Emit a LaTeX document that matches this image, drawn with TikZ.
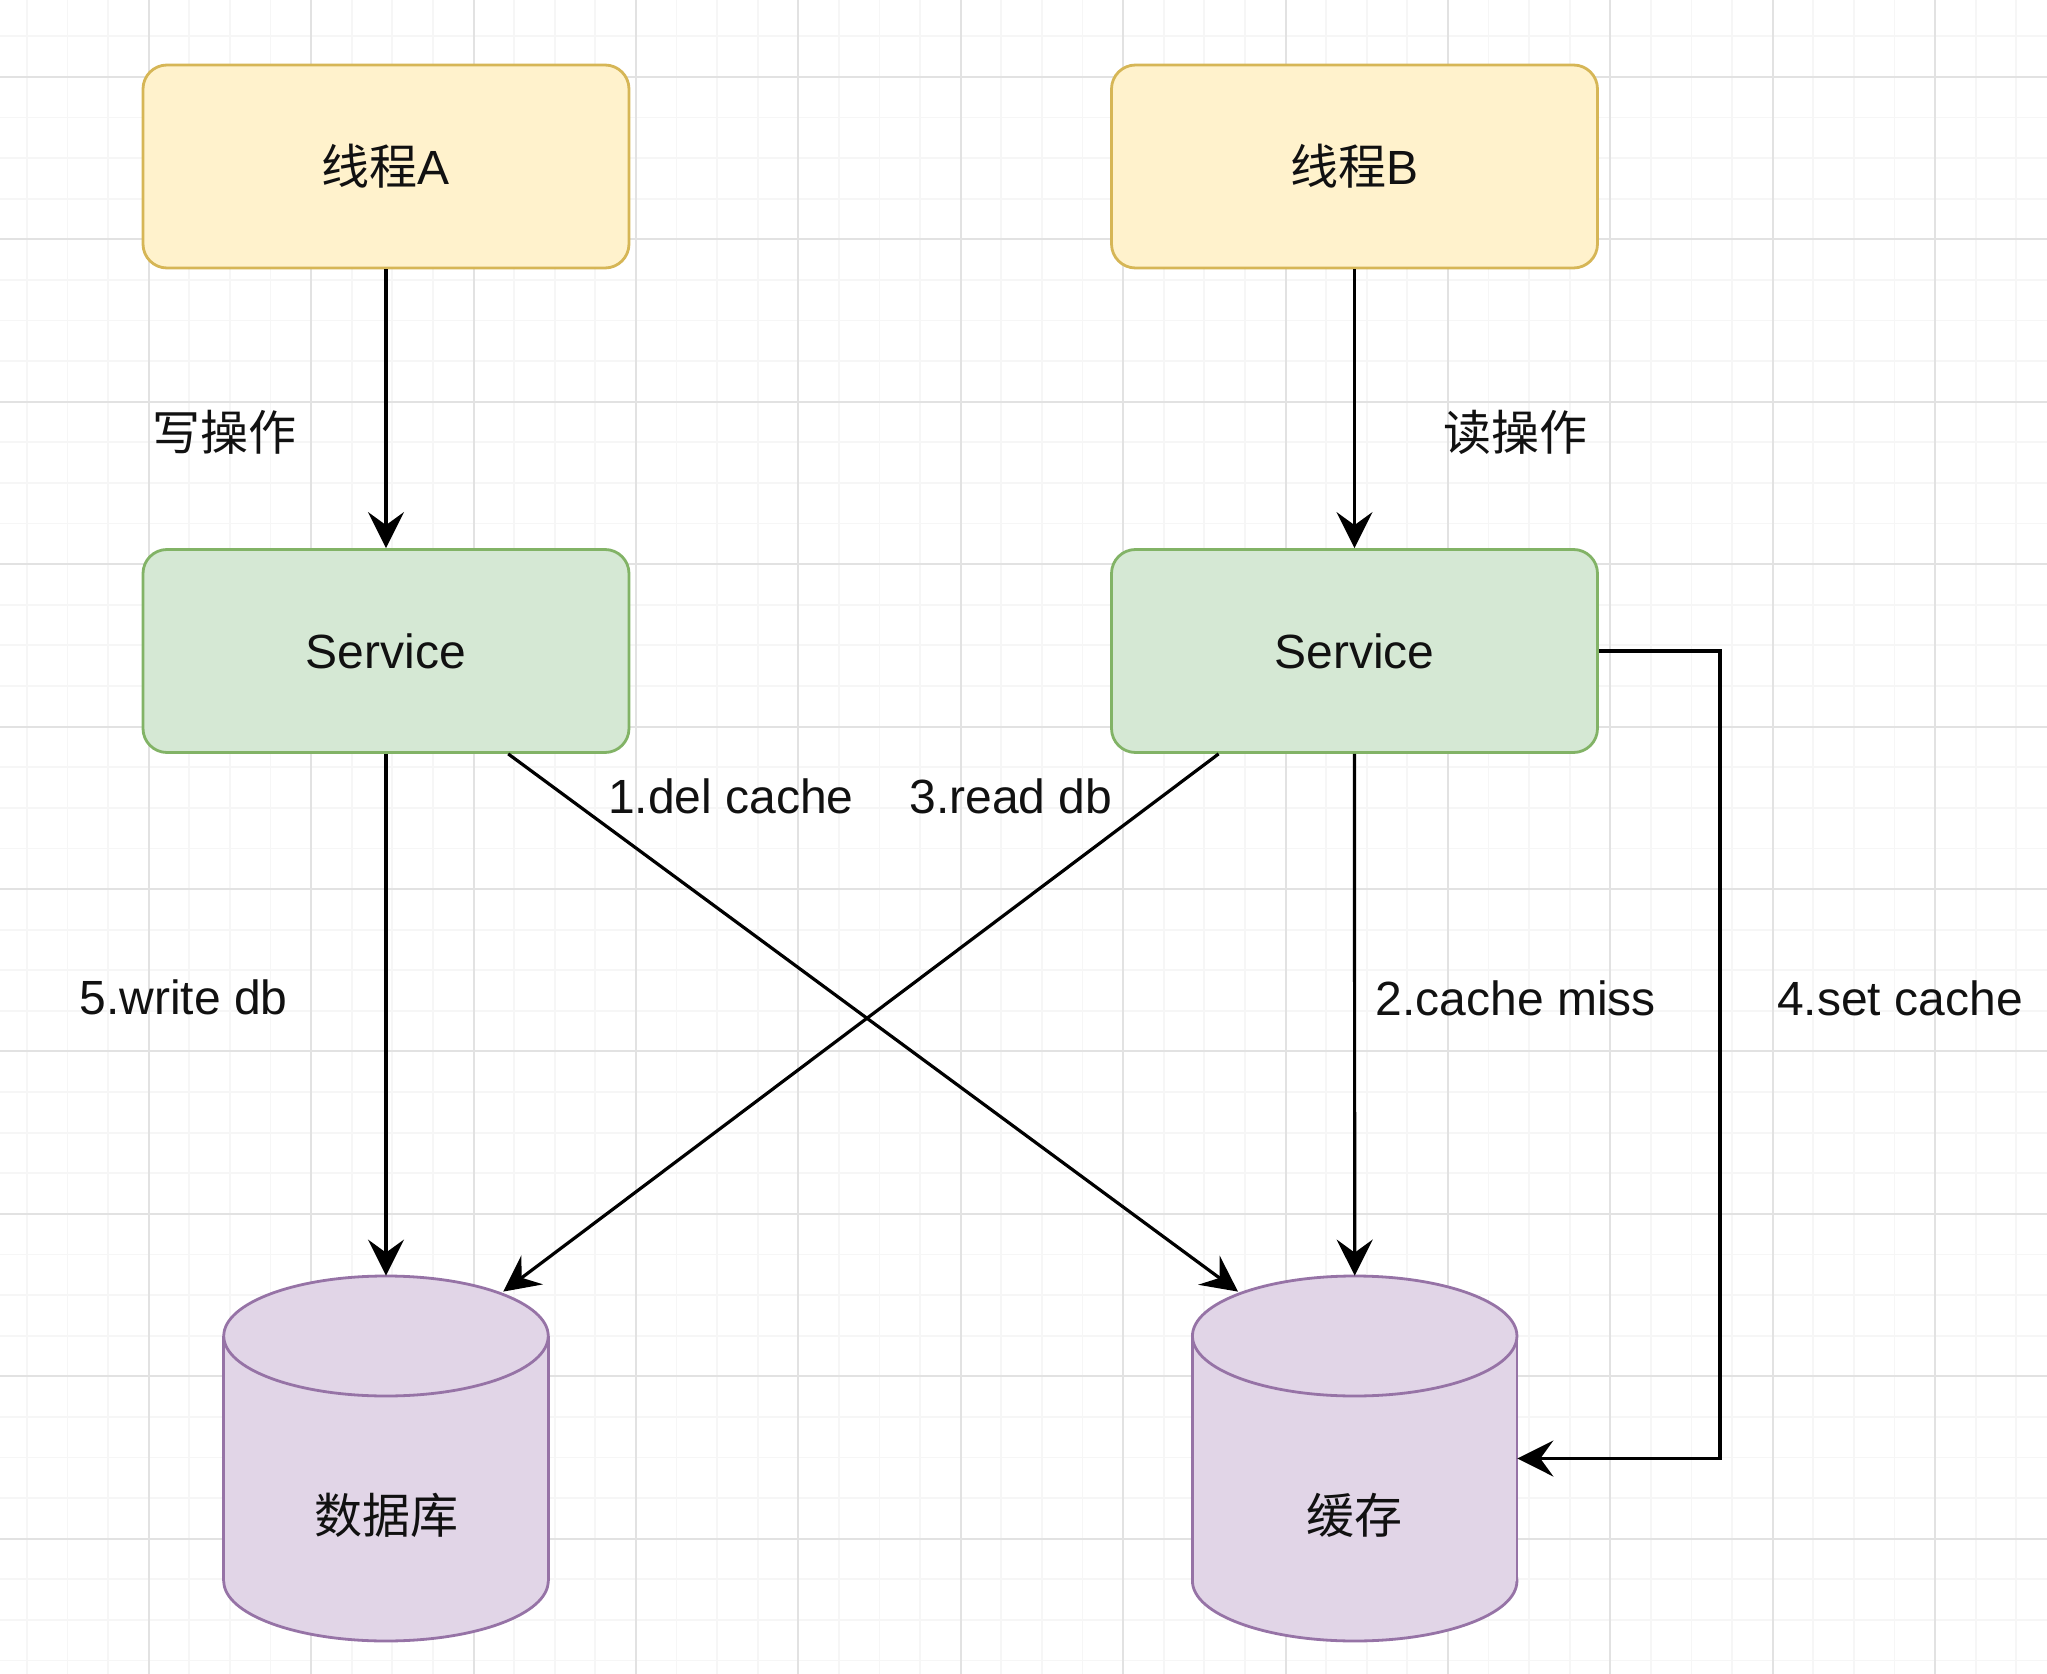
\documentclass[tikz,border=0pt]{standalone}
\usepackage{fontspec}
\setmainfont{Liberation Sans}
\newfontfamily\cjk{Noto Sans CJK SC}
\usetikzlibrary{arrows.meta,calc}
\definecolor{yfill}{HTML}{FFF2CC}
\definecolor{ydraw}{HTML}{D6B656}
\definecolor{gfill}{HTML}{D5E8D4}
\definecolor{gdraw}{HTML}{82B366}
\definecolor{pfill}{HTML}{E1D5E7}
\definecolor{pdraw}{HTML}{9673A6}
\definecolor{majorcol}{HTML}{E2E2E2}
\definecolor{minorcol}{HTML}{F6F6F6}
\definecolor{txt}{HTML}{111111}
\tikzset{
  minorgrid/.style={minorcol, line width=0.9pt},
  majorgrid/.style={majorcol, line width=1pt},
  box/.style={rounded corners=12pt, minimum width=243pt, minimum height=101.5pt,
    inner sep=0pt, line width=1.4pt, text=txt, font=\fontsize{24pt}{28pt}\selectfont},
  lbl/.style={inner sep=0pt, text=txt, font=\fontsize{24pt}{28pt}\selectfont},
  cylbox/.style={inner sep=0pt, minimum width=162.25pt, minimum height=182.5pt},
  cylline/.style={pdraw, line width=1.4pt},
  arr/.style={line width=1.6pt, black, -{Stealth[length=18pt,width=18pt,inset=6.5pt]}}
}
\begin{document}
\begin{tikzpicture}[x=0.5pt,y=-0.5pt]
\fill[white] (0,0) rectangle (2047,1674);
\useasboundingbox (0,0) rectangle (2047,1674);
% grid
\foreach \i in {0,...,49} \draw[minorgrid] ({26.9+40.6*\i},0) -- ({26.9+40.6*\i},1674);
\foreach \i in {0,...,40} \draw[minorgrid] (0,{36.4+40.6*\i}) -- (2047,{36.4+40.6*\i});
\foreach \i in {0,...,11} \draw[majorgrid] ({148.7+162.4*\i},0) -- ({148.7+162.4*\i},1674);
\foreach \i in {0,...,9} \draw[majorgrid] (0,{77+162.4*\i}) -- (2047,{77+162.4*\i});

% boxes
\node[box, fill=yfill, draw=ydraw] (ta) at (386,166.5) {{\cjk 线程}A};
\node[box, fill=yfill, draw=ydraw] (tb) at (1354.5,166.5) {{\cjk 线程}B};
\node[box, fill=gfill, draw=gdraw] (sa) at (386,651) {Service};
\node[box, fill=gfill, draw=gdraw] (sb) at (1354.5,651) {Service};

% cylinder: database
\draw[cylline, fill=pfill] (386,1581) ellipse [x radius=162.25, y radius=60];
\fill[pfill] (223.75,1336) rectangle (548.25,1581);
\draw[cylline] (223.75,1336) -- (223.75,1581);
\draw[cylline] (548.25,1336) -- (548.25,1581);
\draw[cylline, fill=pfill] (386,1336) ellipse [x radius=162.25, y radius=60];
\node[cylbox] (db) at (386,1458.5) {};
\node[lbl] (dbl) at (386,1515) {\cjk 数据库};

% cylinder: cache
\draw[cylline, fill=pfill] (1354.7,1581) ellipse [x radius=162.25, y radius=60];
\fill[pfill] (1192.45,1336) rectangle (1516.95,1581);
\draw[cylline] (1192.45,1336) -- (1192.45,1581);
\draw[cylline] (1516.95,1336) -- (1516.95,1581);
\draw[cylline, fill=pfill] (1354.7,1336) ellipse [x radius=162.25, y radius=60];
\node[cylbox] (cache) at (1354.7,1458.5) {};
\node[lbl] (cachel) at (1354.7,1515) {\cjk 缓存};

% connectors
\coordinate (saout) at ($(sa.south west)!0.75!(sa.south east)$);
\coordinate (sbout) at ($(sb.south west)!0.222!(sb.south east)$);
\coordinate (dbin) at ($(db.north)+(117.3,16)$);
\coordinate (cachein) at ($(cache.north)+(-116.7,16)$);
\draw[arr] (ta) -- (sa);
\draw[arr] (tb) -- (sb);
\draw[arr] (sa.south) -- (db.north);
\draw[arr] (sb.south) -- (cache.north);
\draw[arr] (saout) -- (cachein);
\draw[arr] (sbout) -- (dbin);
\draw[arr] (sb.east) -- ++(121,0) |- (cache.east);

% labels
\node[lbl] (lw) at (224.5,432) {\cjk 写操作};
\node[lbl] (lr) at (1515.7,432) {\cjk 读操作};
\node[lbl] (l1) at (731,796) {1.del cache};
\node[lbl] (l3) at (1011,796) {3.read db};
\node[lbl] (l5) at (183.5,997) {5.write db};
\node[lbl] (l2) at (1515.7,998) {2.cache miss};
\node[lbl] (l4) at (1900,998) {4.set cache};
\end{tikzpicture}
\end{document}
